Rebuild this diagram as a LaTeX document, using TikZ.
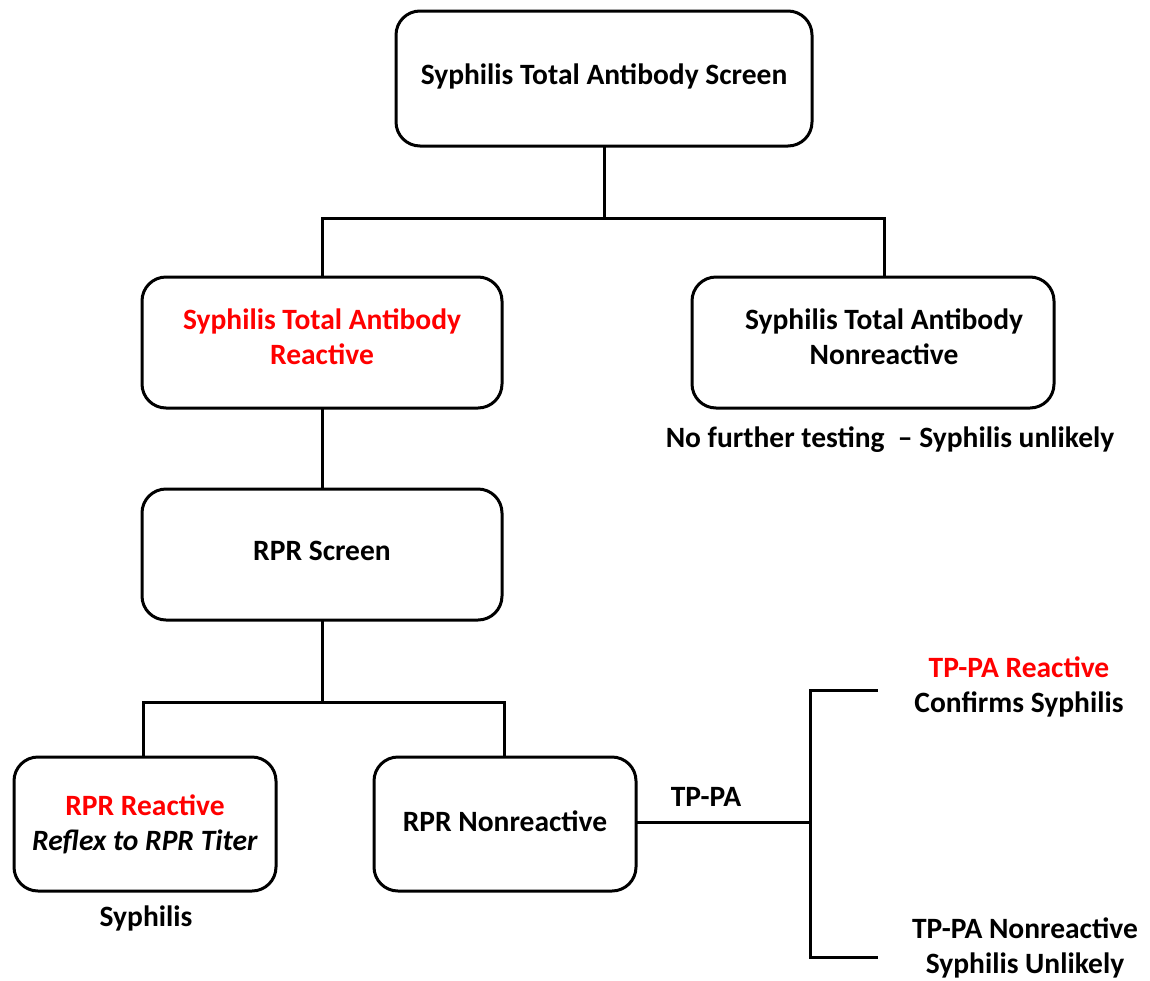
\documentclass[tikz,border=0pt]{standalone}
\usepackage{fontspec}
\setmainfont{Carlito}
\definecolor{myred}{RGB}{255,0,0}
\begin{document}
\begin{tikzpicture}[x=1pt,y=-1pt,
  box/.style={draw=black,line width=3pt,rounded corners=24pt,inner sep=0pt,align=center,
    font=\fontsize{29.5}{35}\selectfont\bfseries},
  lbl/.style={inner sep=0pt,align=center,font=\fontsize{29.5}{35}\selectfont\bfseries},
  conn/.style={line width=3pt,line cap=rect}]
\useasboundingbox (0,0) rectangle (1150,980);
\node[box,minimum width=416pt,minimum height=135pt] (top) at (604,78.5) {\raisebox{9.5pt}{Syphilis Total Antibody Screen}};
\node[box,minimum width=360pt,minimum height=131pt] (react) at (322,342.5) {\textcolor{myred}{Syphilis Total Antibody}\\\textcolor{myred}{Reactive}\\[-24pt]\mbox{}};
\node[box,minimum width=362pt,minimum height=131pt] (nonreact) at (873,342.5) {\hspace*{22pt}Syphilis Total Antibody\\\hspace*{22pt}Nonreactive\\[-24pt]\mbox{}};
\node[lbl] (nofurther) at (890,440) {No further testing\ \ – Syphilis unlikely};
\node[box,minimum width=360pt,minimum height=131pt] (rpr) at (322,554.5) {\raisebox{7.5pt}{RPR Screen}};
\node[box,minimum width=262pt,minimum height=134pt] (rprr) at (145,824) {\textcolor{myred}{RPR Reactive}\\\textit{Reflex to RPR Titer}};
\node[lbl] (syph) at (146,918) {Syphilis};
\node[box,minimum width=262pt,minimum height=134pt] (rprn) at (505,824) {\raisebox{6pt}{RPR Nonreactive}};
\node[lbl] (tppa) at (706,797) {TP-PA};
\node[lbl] (tpr) at (1019,687) {\textcolor{myred}{TP-PA Reactive}\\Confirms Syphilis};
\node[lbl] (tpn) at (1025,948) {TP-PA Nonreactive\\Syphilis Unlikely};
\coordinate (j1) at (604,218);
\coordinate (j1l) at (322,218);
\coordinate (j1r) at (884,218);
\coordinate (j2) at (322,702);
\coordinate (j2l) at (143,702);
\coordinate (j2r) at (504,702);
\coordinate (j3) at (810,822);
\coordinate (j3t) at (810,690);
\coordinate (j3b) at (810,957);
\coordinate (e3t) at (876,690);
\coordinate (e3b) at (876,957);
\draw[conn] (top.south) -- (j1);
\draw[conn] (j1l) -- (j1r);
\draw[conn] (j1l) -- (j1l |- react.north);
\draw[conn] (j1r) -- (j1r |- nonreact.north);
\draw[conn] (react.south) -- (rpr.north);
\draw[conn] (rpr.south) -- (j2);
\draw[conn] (j2l) -- (j2r);
\draw[conn] (j2l) -- (j2l |- rprr.north);
\draw[conn] (j2r) -- (j2r |- rprn.north);
\draw[conn] (rprn.east |- j3) -- (j3);
\draw[conn] (j3t) -- (j3b);
\draw[conn] (j3t) -- (e3t);
\draw[conn] (j3b) -- (e3b);
\end{tikzpicture}
\end{document}
